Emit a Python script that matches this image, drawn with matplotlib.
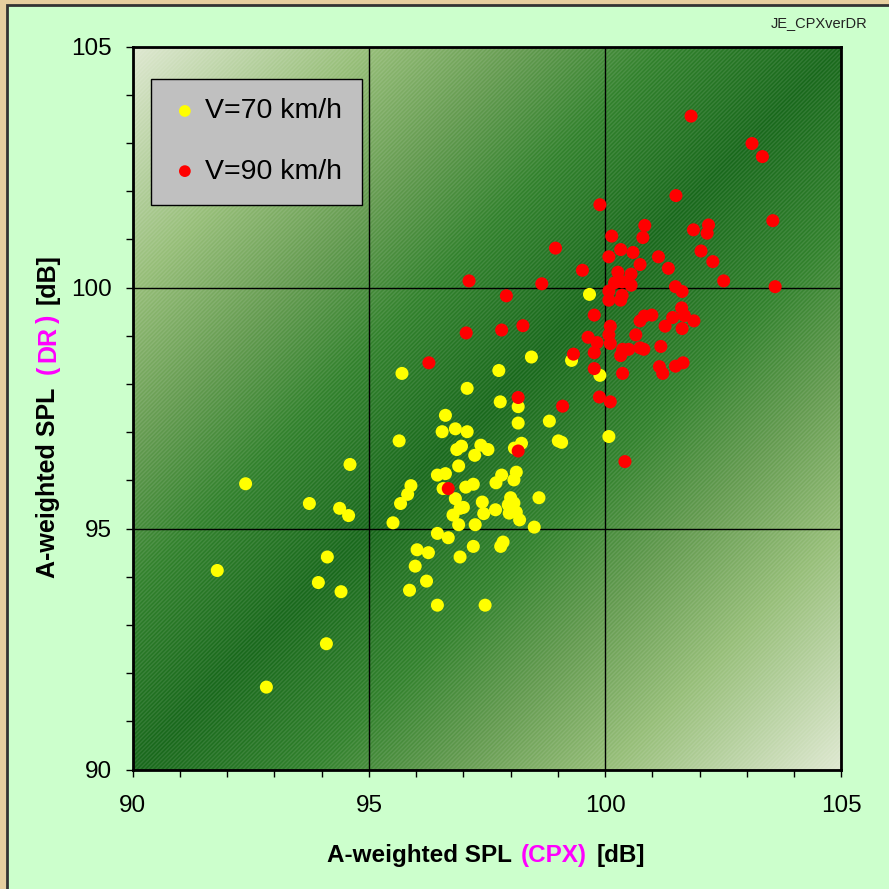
import matplotlib
matplotlib.use("Agg")
import matplotlib.pyplot as plt
import numpy as np
from matplotlib.colors import LinearSegmentedColormap
from matplotlib.patches import Rectangle
from matplotlib.transforms import IdentityTransform
from matplotlib.ticker import MultipleLocator

plt.rcParams['font.family'] = ['Liberation Sans', 'DejaVu Sans']
plt.rcParams['hatch.linewidth'] = 1.0

# V=70 km/h  (CPX level, DR level) in dB(A)
cpx70 = [99.67, 95.70, 95.64, 94.60, 92.39, 95.89, 95.82, 93.74, 95.67, 94.38,
         94.57, 95.51, 96.02, 96.26, 94.12, 95.98, 91.79, 93.93, 96.22, 94.41,
         95.86, 94.10, 92.83, 98.44, 99.29, 99.89, 97.75, 97.08, 97.78, 98.16,
         96.62, 98.16, 98.82, 96.83, 96.55, 97.08, 99.01, 99.08, 100.08, 97.37,
         96.96, 96.86, 97.52, 98.08, 98.23, 97.24, 96.90, 96.45, 96.62, 97.81,
         98.12, 97.69, 98.07, 97.05, 97.21, 96.57, 96.83, 97.40, 98.60, 98.00,
         97.95, 98.07, 96.93, 97.00, 97.68, 96.78, 97.43, 97.97, 98.12, 98.19,
         96.90, 97.25, 98.50, 96.45, 96.68, 97.21, 97.84, 97.79, 96.93, 96.45,
         97.46]
dr70 = [99.86, 98.22, 96.82, 96.33, 95.93, 95.89, 95.71, 95.52, 95.52, 95.42,
        95.27, 95.12, 94.56, 94.50, 94.41, 94.22, 94.13, 93.88, 93.91, 93.69,
        93.72, 92.61, 91.71, 98.56, 98.49, 98.18, 98.28, 97.91, 97.63, 97.53,
        97.35, 97.19, 97.23, 97.07, 97.01, 97.01, 96.82, 96.79, 96.91, 96.73,
        96.71, 96.64, 96.64, 96.67, 96.77, 96.52, 96.30, 96.11, 96.14, 96.11,
        96.17, 95.95, 96.01, 95.86, 95.92, 95.83, 95.62, 95.55, 95.64, 95.64,
        95.49, 95.53, 95.42, 95.44, 95.39, 95.28, 95.31, 95.32, 95.34, 95.18,
        95.08, 95.08, 95.03, 94.90, 94.81, 94.63, 94.72, 94.63, 94.41, 93.41,
        93.41]

# V=90 km/h
cpx90 = [101.82, 103.11, 103.33, 101.50, 99.89, 103.55, 100.84, 102.19, 101.87, 102.16,
         100.80, 100.14, 98.95, 100.33, 100.59, 102.03, 100.08, 101.13, 102.28, 100.74,
         99.52, 101.34, 100.27, 100.55, 97.12, 98.66, 102.51, 103.60, 100.20, 100.36,
         100.55, 101.49, 101.63, 100.08, 97.91, 100.36, 100.08, 100.33, 99.77, 100.99,
         100.83, 101.62, 101.43, 101.68, 100.74, 101.88, 101.27, 101.63, 100.11, 97.06,
         97.81, 98.26, 100.08, 100.65, 99.64, 99.83, 100.11, 100.37, 100.50, 100.74,
         100.82, 101.18, 99.77, 99.33, 100.33, 96.27, 101.15, 101.22, 101.49, 101.65,
         99.77, 100.37, 98.16, 99.88, 100.11, 99.10, 98.16, 100.42, 96.68]
dr90 = [103.56, 102.99, 102.72, 101.91, 101.72, 101.39, 101.29, 101.30, 101.20, 101.13,
        101.04, 101.07, 100.82, 100.79, 100.73, 100.76, 100.64, 100.64, 100.54, 100.48,
        100.36, 100.40, 100.32, 100.28, 100.14, 100.08, 100.14, 100.02, 100.10, 100.12,
        100.05, 100.02, 99.92, 99.93, 99.83, 99.84, 99.74, 99.74, 99.43, 99.43,
        99.41, 99.58, 99.38, 99.42, 99.31, 99.31, 99.20, 99.15, 99.20, 99.06,
        99.12, 99.21, 99.02, 99.02, 98.97, 98.86, 98.84, 98.72, 98.72, 98.75,
        98.72, 98.78, 98.65, 98.62, 98.59, 98.44, 98.36, 98.22, 98.37, 98.44,
        98.32, 98.22, 97.72, 97.73, 97.63, 97.54, 96.61, 96.39, 95.83]

labels = ['V=70 km/h', 'V=90 km/h']
lims = (90, 105)

W = 889
fig = plt.figure(figsize=(W / 100, W / 100), dpi=100, facecolor='#e6cf9f')

# light green chart area with a dark border (runs off right/bottom)
fig.patches.append(Rectangle((7 / W, -0.1), 1.2, 1.1 - 5 / W, transform=fig.transFigure,
                             facecolor='#ccffcc', edgecolor='#333333', lw=2, zorder=-10))

ax = fig.add_axes([132.7 / W, 1 - 769.5 / W, (841.3 - 132.7) / W, (769.5 - 46.7) / W])
ax.set_facecolor('none')

# diagonal gradient background: dark along the 1:1 line, pale in the corners
cmap = LinearSegmentedColormap.from_list('bg', [
    (0.0, (25 / 255, 105 / 255, 28 / 255)),
    (0.25, (50 / 255, 130 / 255, 45 / 255)),
    (0.45, (100 / 255, 155 / 255, 80 / 255)),
    (0.67, (150 / 255, 190 / 255, 120 / 255)),
    (1.0, (222 / 255, 232 / 255, 208 / 255))])
gx, gy = np.meshgrid(np.linspace(0, 1, 400), np.linspace(0, 1, 400))
ax.imshow(np.abs(gx - gy), extent=[lims[0], lims[1], lims[0], lims[1]], origin='lower',
          aspect='auto', cmap=cmap, vmin=0, vmax=1, interpolation='bilinear', zorder=0)
ax.add_patch(Rectangle((0, 0), 1, 1, transform=ax.transAxes, facecolor='none',
                       edgecolor=(1, 1, 1, 0.10), hatch='////////', lw=0, zorder=0.5))

ax.scatter(cpx70, dr70, s=88, color='#ffff00', edgecolors='none', zorder=3, label=labels[0])
ax.scatter(cpx90, dr90, s=88, color='#ff0000', edgecolors='none', zorder=4, label=labels[1])

ax.set_xlim(*lims)
ax.set_ylim(*lims)
ax.xaxis.set_major_locator(MultipleLocator(5))
ax.yaxis.set_major_locator(MultipleLocator(5))
ax.xaxis.set_minor_locator(MultipleLocator(1))
ax.yaxis.set_minor_locator(MultipleLocator(1))
ax.grid(True, which='major', color='black', lw=1, zorder=2)
ax.tick_params(which='both', direction='out', length=5, width=1, colors='black')
ax.tick_params(axis='x', which='major', pad=13, labelsize=17.5)
ax.tick_params(axis='y', which='major', pad=10, labelsize=17.5)
for sp in ax.spines.values():
    sp.set_linewidth(2)
    sp.set_color('black')
    sp.set_zorder(5)

leg = ax.legend(loc='upper left', bbox_to_anchor=(0.0254, 0.956), borderaxespad=0,
                fontsize=20.5, frameon=True, fancybox=False, framealpha=1,
                facecolor='#c0c0c0', edgecolor='black', handlelength=1.0,
                handletextpad=0.2, borderpad=0.7, labelspacing=1.2, markerscale=0.9)
leg.get_frame().set_linewidth(1)
leg.set_zorder(6)

fig.text(868, 889 - 27, 'JE_CPXverDR', transform=IdentityTransform(), ha='right',
         va='baseline', fontsize=10.5, color='#222222')

# axis titles with the measurement method in magenta
renderer = fig.canvas.get_renderer()


def piece_label(parts, x0, y0, vertical, gaps, size):
    pos = y0 if vertical else x0
    for (s, c), g in zip(parts, gaps):
        if vertical:
            t = fig.text(x0, pos, s, transform=IdentityTransform(), rotation=90,
                         ha='center', va='bottom', fontsize=size, fontweight='bold', color=c)
            pos = t.get_window_extent(renderer).y1 + g
        else:
            t = fig.text(pos, y0, s, transform=IdentityTransform(), ha='left',
                         va='baseline', fontsize=size, fontweight='bold', color=c)
            pos = t.get_window_extent(renderer).x1 + g


piece_label([('A-weighted SPL', 'black'), ('(CPX)', '#ff00ff'), ('[dB]', 'black')],
            327, 889 - 862, False, [9, 10, 0], 17.5)
piece_label([('A-weighted SPL', 'black'), ('(', '#ff00ff'), ('DR', '#ff00ff'),
             (')', '#ff00ff'), ('[dB]', 'black')],
            48, 889 - 578, True, [14, 3, 3, 11, 0], 18)

fig.savefig('out.png', dpi=100, facecolor=fig.get_facecolor())
